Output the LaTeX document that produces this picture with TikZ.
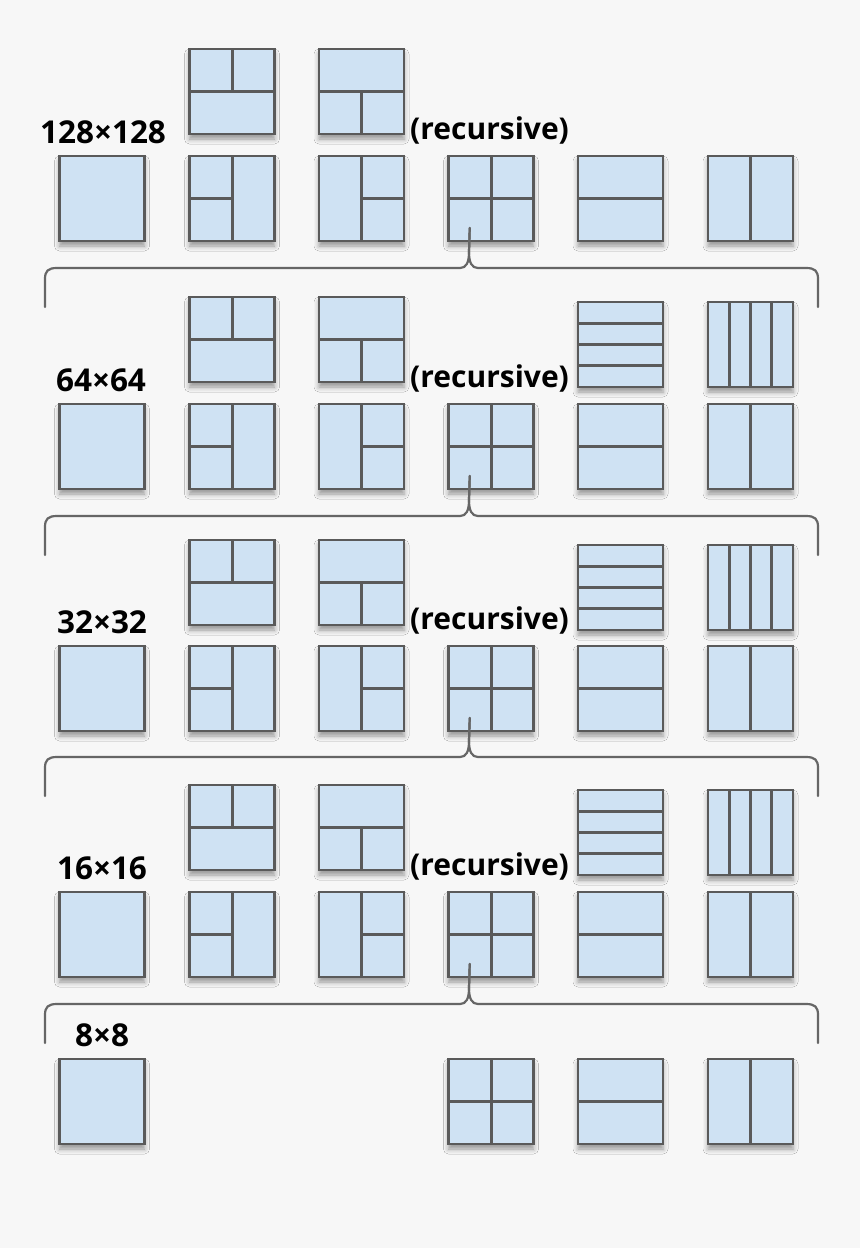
\documentclass[tikz,border=0pt]{standalone}
\usepackage{fontspec}
\setmainfont{Open Sans}
\usetikzlibrary{calc,shadows.blur}
\definecolor{bg}{HTML}{F7F7F7}
\definecolor{boxfill}{HTML}{CFE2F3}
\definecolor{boxline}{HTML}{5A5A5A}
\definecolor{bracecol}{HTML}{666666}
\def\pb{path picture bounding box}
\tikzset{
  innerln/.style={draw=boxline, line width=3pt},
  blk/.style={draw=boxline, fill=boxfill, line width=2.8pt,
    minimum width=85pt, minimum height=85pt, inner sep=0pt, outer sep=0pt,
    blur shadow={shadow xshift=0pt, shadow yshift=-5pt, shadow blur radius=5pt, shadow opacity=40}},
  splitA/.style={path picture={\draw[innerln] (\pb.west) -- (\pb.east) (\pb.north) -- (\pb.center);}},
  splitB/.style={path picture={\draw[innerln] (\pb.west) -- (\pb.east) (\pb.south) -- (\pb.center);}},
  splitC/.style={path picture={\draw[innerln] (\pb.north) -- (\pb.south) (\pb.west) -- (\pb.center);}},
  splitD/.style={path picture={\draw[innerln] (\pb.north) -- (\pb.south) (\pb.east) -- (\pb.center);}},
  splitQ/.style={path picture={\draw[innerln] (\pb.north) -- (\pb.south) (\pb.west) -- (\pb.east);}},
  splitH/.style={path picture={\draw[innerln] (\pb.west) -- (\pb.east);}},
  splitV/.style={path picture={\draw[innerln] (\pb.north) -- (\pb.south);}},
  splitHf/.style={path picture={\draw[innerln]
     ($(\pb.north west)!0.25!(\pb.south west)$) -- ($(\pb.north east)!0.25!(\pb.south east)$)
     (\pb.west) -- (\pb.east)
     ($(\pb.north west)!0.75!(\pb.south west)$) -- ($(\pb.north east)!0.75!(\pb.south east)$);}},
  splitVf/.style={path picture={\draw[innerln]
     ($(\pb.north west)!0.25!(\pb.north east)$) -- ($(\pb.south west)!0.25!(\pb.south east)$)
     (\pb.north) -- (\pb.south)
     ($(\pb.north west)!0.75!(\pb.north east)$) -- ($(\pb.south west)!0.75!(\pb.south east)$);}},
  bracestyle/.style={draw=bracecol, line width=2.2pt, line cap=round, line join=round},
  lbl/.style={font=\fontsize{31.5}{34}\selectfont\bfseries, text=black, inner sep=0pt},
  rlbl/.style={font=\fontsize{30}{34}\selectfont\bfseries, text=black, inner sep=0pt},
}
\newcommand\mybrace[2]{%
  \draw[bracestyle] (45,#1+39) -- (45,#1+11) .. controls (45,#1+3) and (48,#1) .. (57,#1)
    -- (460,#1) .. controls (466,#1) and (469,#1-5) .. (469,#1-16) -- (#2);
  \draw[bracestyle] (#2) -- (469,#1-16) .. controls (469,#1-5) and (472,#1) .. (478,#1)
    -- (806,#1) .. controls (815,#1) and (818,#1+3) .. (818,#1+11) -- (818,#1+39);
}
\begin{document}
\begin{tikzpicture}[x=1pt,y=-1pt]
\fill[bg] (0,0) rectangle (860,1248);
\useasboundingbox (0,0) rectangle (860,1248);
\foreach \s/\yt/\yq/\yb in {1/91.5/0/198.5, 2/339.5/344.5/446.5, 3/582.5/587.5/688.5, 4/827.5/832.5/934.5} {
  \node[blk] (s\s-c1) at (102,\yb) {};
  \node[blk,splitC] (s\s-c2) at (232,\yb) {};
  \node[blk,splitD] (s\s-c3) at (361.5,\yb) {};
  \node[blk,splitQ] (s\s-c4) at (491,\yb) {};
  \node[blk,splitH] (s\s-c5) at (620.5,\yb) {};
  \node[blk,splitV] (s\s-c6) at (750.5,\yb) {};
  \node[blk,splitA] (s\s-t2) at (232,\yt) {};
  \node[blk,splitB] (s\s-t3) at (361.5,\yt) {};
  \ifnum\s>1
    \node[blk,splitHf] (s\s-t5) at (620.5,\yq) {};
    \node[blk,splitVf] (s\s-t6) at (750.5,\yq) {};
  \fi
}
\node[blk] (s5-c1) at (102,1101.5) {};
\node[blk,splitQ] (s5-c4) at (491,1101.5) {};
\node[blk,splitH] (s5-c5) at (620.5,1101.5) {};
\node[blk,splitV] (s5-c6) at (750.5,1101.5) {};
% labels
\node[lbl, anchor=base] (l1) at (103,143) {128×128};
\node[lbl, anchor=base] (l2) at (101,391) {64×64};
\node[lbl, anchor=base] (l3) at (102,633) {32×32};
\node[lbl, anchor=base] (l4) at (102,879) {16×16};
\node[lbl, anchor=base] (l5) at (102,1046) {8×8};
\node[rlbl, anchor=base west] (r1) at (410,139) {(recursive)};
\node[rlbl, anchor=base west] (r2) at (410,387) {(recursive)};
\node[rlbl, anchor=base west] (r3) at (410,629) {(recursive)};
\node[rlbl, anchor=base west] (r4) at (410,875) {(recursive)};
% braces
\foreach \s/\by in {1/268, 2/516, 3/757, 4/1004} {
  \coordinate (t\s) at ($(s\s-c4.south west)!0.25!(s\s-c4.south east)+(0,-13)$);
  \mybrace{\by}{t\s}
}
\end{tikzpicture}
\end{document}
